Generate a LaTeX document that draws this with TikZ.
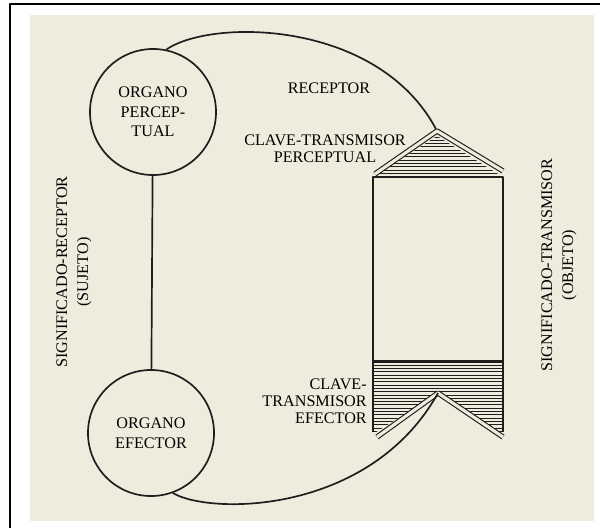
\documentclass[tikz,border=0pt]{standalone}
\usepackage{fontspec}
\setmainfont{Liberation Serif}
\usepackage{tikz}
\usetikzlibrary{positioning}

\definecolor{paper}{HTML}{EFECDD}
\definecolor{ink}{HTML}{1E1E1E}

\tikzset{
  organ/.style={draw=ink, line width=1.2pt, circle, minimum size=3.15cm, inner sep=0pt, align=center, font=\fontsize{11.5}{14}\selectfont},
  lbl/.style={font=\fontsize{11.5}{12.2}\selectfont, inner sep=0pt, align=center},
  side/.style={font=\fontsize{11.5}{15}\selectfont, inner sep=0pt, align=center, rotate=90},
  band/.style={draw=ink, line width=0.8pt, double=paper, double distance=2.2pt},
  hatch/.style={draw=ink, line width=0.65pt},
  wire/.style={draw=ink, line width=1.2pt},
}

\begin{document}
\begin{tikzpicture}[x=0.025cm, y=-0.025cm, line join=round]
  \useasboundingbox (0,0) rectangle (600,528);
  % paper and frame
  \fill[paper] (30,15) rectangle (594,521);
  \draw[line width=1.5pt] (10,528) -- (10,4) -- (600,4);

  % subject: the two organs
  \node[organ] (perc) at (153,112) {ORGANO\\PERCEP-\\TUAL};
  \node[organ] (efec) at (151,433) {ORGANO\\EFECTOR};
  \draw[wire] (perc) -- (efec);

  % object: roof, body and notch
  \coordinate (topapex) at (437,131);
  \coordinate (lowapex) at (438,393);
  \begin{scope}
    \clip (373,177) -- (437,136) -- (503,177) -- cycle;
    \foreach \y in {137,140.3,...,178}
      \draw[hatch] (373,\y) -- (503,\y);
  \end{scope}
  \begin{scope}
    \clip (373,361) -- (503,361) -- (503,434) -- (lowapex) -- (373,434) -- cycle;
    \foreach \y in {362,365.3,...,436}
      \draw[hatch] (373,\y) -- (503,\y);
  \end{scope}
  \draw[wire] (373,432) -- (373,177) -- (503,177) -- (503,432);
  \draw[wire, line width=1.5pt] (373,177) -- (503,177);
  \draw[wire, line width=1.5pt] (373,361) -- (503,361);

  % feedback arcs
  \draw[wire] (perc.78) .. controls (212,18) and (380,20) .. (topapex);
  \draw[band] (375,174) -- (topapex) -- (503,171);
  \draw[band] (377,437) -- (lowapex) -- (503,437);
  \draw[wire] (efec.-70) .. controls (210,515) and (370,515) .. (lowapex);

  % labels
  \node[lbl] (rec) at (329,88) {RECEPTOR};
  \node[lbl] (ctp) at (325,149) {CLAVE-TRANSMISOR\\PERCEPTUAL};
  \node[lbl, align=right, anchor=east] (cte) at (367,401) {CLAVE-\\TRANSMISOR\\EFECTOR};
  \node[side] (sujeto) at (74,272) {SIGNIFICADO-RECEPTOR\\(SUJETO)};
  \node[side] (objeto) at (559,265) {SIGNIFICADO-TRANSMISOR\\(OBJETO)};
\end{tikzpicture}
\end{document}
